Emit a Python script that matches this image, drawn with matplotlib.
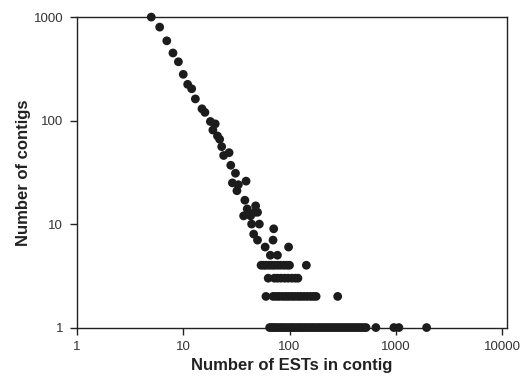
import numpy as np
import matplotlib
matplotlib.use('Agg')
import matplotlib.pyplot as plt
from matplotlib.ticker import FixedLocator, NullLocator, FixedFormatter

plt.rcParams['font.family'] = ['Liberation Sans', 'DejaVu Sans']

# contigs with more than one member
ests_hi = [5, 6, 7, 8, 9, 10, 11, 12, 13, 15, 16, 18, 20, 19, 21, 22, 23, 24, 27,
           28, 31, 29, 33, 39, 32, 38, 48, 40, 47, 37, 43, 50, 44, 52, 71, 46,
           50, 70, 59, 98, 66, 77]
contigs_hi = [1000, 800, 590, 450, 370, 280, 224, 203, 162, 130, 120, 98, 93, 81,
              71, 66, 56, 46, 49, 37, 31, 25, 24, 26, 21, 17, 15, 14, 13, 12, 12,
              13, 10, 10, 9, 8, 7, 7, 6, 6, 5, 5]

ests_4 = [54, 57, 60, 64, 68, 72, 77, 82, 88, 94, 100, 144]
ests_3 = [63, 72, 77, 83, 90, 97, 105, 113, 120]
ests_2 = [60, 70, 75, 80, 86, 92, 98, 105, 112, 120, 128, 137, 147, 158, 168,
          178, 284]
ests_1 = [65, 68, 71, 74, 78, 82, 86, 90, 95, 100, 105, 110, 116, 122, 128, 135,
          142, 150, 158, 166, 175, 185, 195, 205, 216, 228, 240, 253, 266, 280,
          295, 310, 327, 345, 363, 383, 403, 425, 448, 472, 498, 525, 650, 960,
          1070, 1950]

x = np.array(ests_hi + ests_4 + ests_3 + ests_2 + ests_1, dtype=float)
y = np.array(contigs_hi + [4] * len(ests_4) + [3] * len(ests_3)
             + [2] * len(ests_2) + [1] * len(ests_1), dtype=float)

fig = plt.figure(figsize=(5.27, 3.8), dpi=100)
ax = fig.add_axes([0.1461, 0.138, 0.816, 0.817])

ax.scatter(x, y, s=40, color='#1c1c1c', edgecolors='none', zorder=3, clip_on=False)

ax.set_xscale('log')
ax.set_yscale('log')
ax.set_xlim(1, 10 ** 4.047)
ax.set_ylim(1, 1000)

xt = [1, 10, 100, 1000, 10000]
yt = [1, 10, 100, 1000]
ax.xaxis.set_major_locator(FixedLocator(xt))
ax.xaxis.set_major_formatter(FixedFormatter([str(v) for v in xt]))
ax.xaxis.set_minor_locator(NullLocator())
ax.yaxis.set_major_locator(FixedLocator(yt))
ax.yaxis.set_major_formatter(FixedFormatter([str(v) for v in yt]))
ax.yaxis.set_minor_locator(NullLocator())

ax.tick_params(direction='out', length=5, width=1, colors='#222222',
               labelsize=9.5, labelcolor='#333333', pad=5)
for s in ax.spines.values():
    s.set_color('#222222')
    s.set_linewidth(1)

ax.set_xlabel('Number of ESTs in contig', fontsize=12, fontweight='bold',
              color='#222222', labelpad=3)
ax.set_ylabel('Number of contigs', fontsize=12, fontweight='bold',
              color='#222222', labelpad=2)

plt.savefig('out.png', dpi=100)
